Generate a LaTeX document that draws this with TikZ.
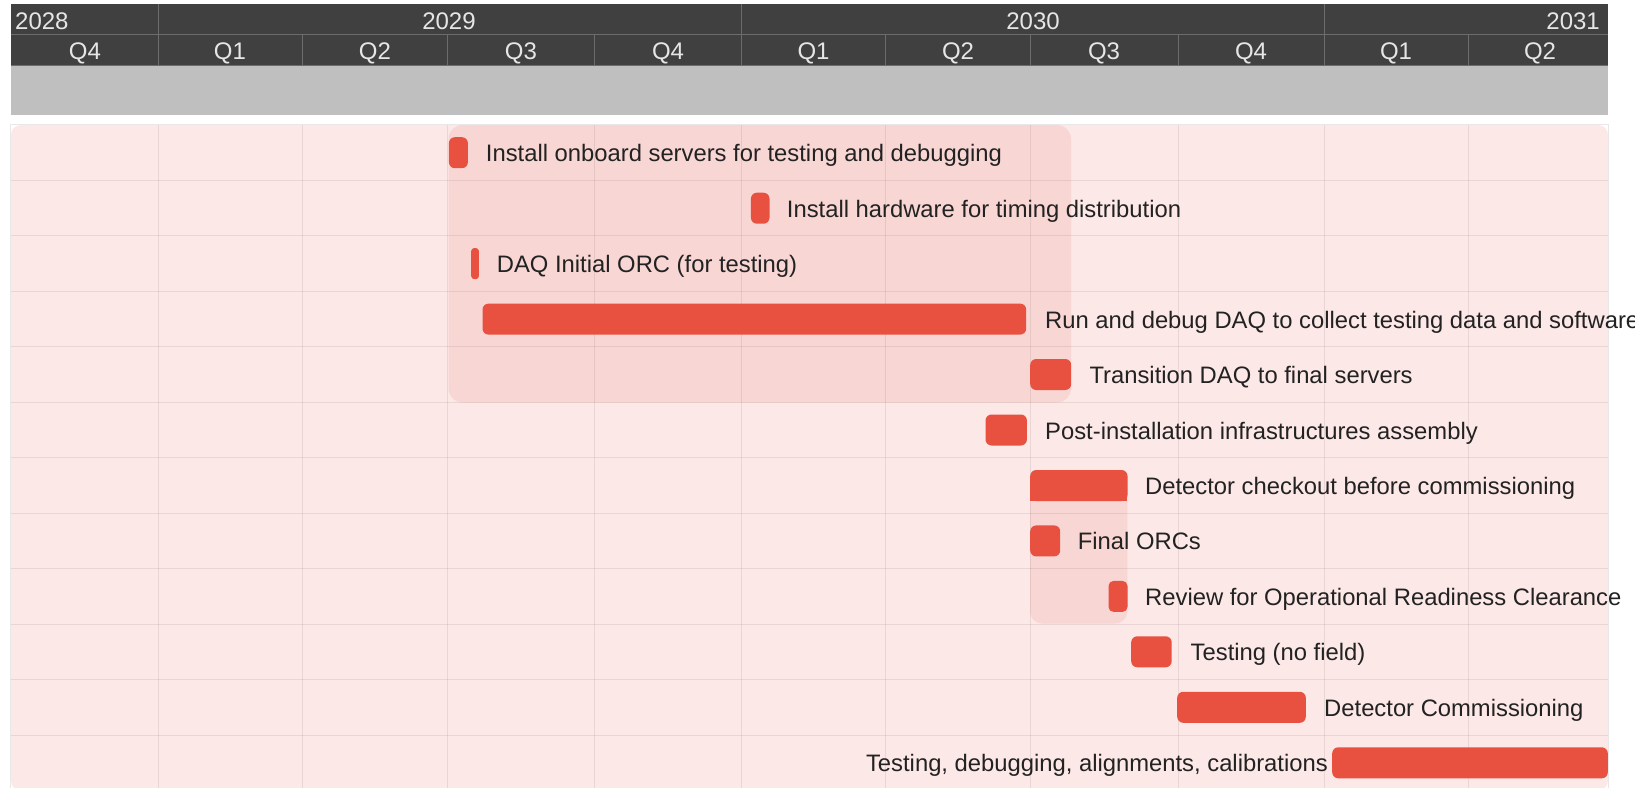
\documentclass[tikz,border=0pt]{standalone}
\usepackage{fontspec}
\setmainfont{Liberation Sans}
\definecolor{hdr}{HTML}{404040}
\definecolor{hdrline}{HTML}{6C6C6C}
\definecolor{hdrtext}{HTML}{E6E6E6}
\definecolor{band}{HTML}{BFBFBF}
\definecolor{bodybg}{HTML}{FCE8E6}
\definecolor{grp}{HTML}{F8D6D4}
\definecolor{barred}{HTML}{E8503F}
\definecolor{txt}{HTML}{222222}
\definecolor{framec}{HTML}{E8E8E8}
\begin{document}
\begin{tikzpicture}[x=1pt,y=-1pt,
  hdrtxt/.style={inner sep=0pt,text=hdrtext,font=\fontsize{24}{28}\selectfont},
  lbl/.style={anchor=base west,inner sep=0pt,text=txt,font=\fontsize{23.8}{28}\selectfont},
  lble/.style={lbl,anchor=base east},
  barbox/.style={fill=barred,rounded corners=6pt,inner sep=0pt,minimum height=31pt,anchor=west},
  gridl/.style={draw=black,draw opacity=0.075,line width=1pt},
  hline/.style={draw=hdrline,line width=1pt}]
\useasboundingbox (0,0) rectangle (1635,787);
\clip (0,0) rectangle (1635,787);
\fill[white] (0,0) rectangle (1635,787);
% header
\fill[hdr] (11,4) rectangle (1608,65.7);
\fill[band] (11,65.7) rectangle (1608,115);
\draw[hline] (11,34.5) -- (1608,34.5);
\draw[hline,line width=0.8pt] (11,65.5) -- (1608,65.5);
\foreach \x in {158.5,741.7,1324} \draw[hline] (\x,4) -- (\x,34.5);
\foreach \x in {158.5,302,447.7,594.5,741.7,885.5,1030.5,1178,1324,1468} \draw[hline] (\x,34.5) -- (\x,65.5);
\node[hdrtxt,anchor=base west] (y28) at (15,29) {2028};
\node[hdrtxt,anchor=base] (y29) at (449,29) {2029};
\node[hdrtxt,anchor=base] (y30) at (1033,29) {2030};
\node[hdrtxt,anchor=base east] (y31) at (1600,29) {2031};
\node[hdrtxt,anchor=base] (q1) at (85,59) {Q4};
\node[hdrtxt,anchor=base] (q2) at (230,59) {Q1};
\node[hdrtxt,anchor=base] (q3) at (375,59) {Q2};
\node[hdrtxt,anchor=base] (q4) at (521,59) {Q3};
\node[hdrtxt,anchor=base] (q5) at (668,59) {Q4};
\node[hdrtxt,anchor=base] (q6) at (813.5,59) {Q1};
\node[hdrtxt,anchor=base] (q7) at (958,59) {Q2};
\node[hdrtxt,anchor=base] (q8) at (1104,59) {Q3};
\node[hdrtxt,anchor=base] (q9) at (1251,59) {Q4};
\node[hdrtxt,anchor=base] (q10) at (1396,59) {Q1};
\node[hdrtxt,anchor=base] (q11) at (1540,59) {Q2};
% body
\draw[framec,line width=1pt] (10.5,124.5) rectangle (1608.5,795);
\fill[bodybg,rounded corners=10pt] (11,125) rectangle (1608,790.5);
\fill[grp,rounded corners=14pt] (448.5,125) rectangle (1071,402.5);
\begin{scope}
\clip (1029,486) rectangle (1129,625);
\fill[grp,rounded corners=12pt] (1030,440) rectangle (1127.3,623.5);
\end{scope}
\foreach \x in {158.5,302,447.7,594.5,741.7,885.5,1030.5,1178,1324,1468} \draw[gridl] (\x,125) -- (\x,790);
\foreach \y in {180.5,235.9,291.4,346.8,402.3,457.8,513.2,568.7,624.1,679.6,735.1} \draw[gridl] (11,\y) -- (1608,\y);
% bars and labels
\node[barbox,minimum width=19pt] (b0) at (448.7,152.7) {};
\node[lbl] (l0) at (485.7,161.7) {Install onboard servers for testing and debugging};
\node[barbox,minimum width=18.6pt] (b1) at (750.7,208.2) {};
\node[lbl] (l1) at (786.7,217.2) {Install hardware for timing distribution};
\node[barbox,rounded corners=3pt,minimum width=7.7pt] (b2) at (471,263.6) {};
\node[lbl] (l2) at (496.7,272.6) {DAQ Initial ORC (for testing)};
\node[barbox,minimum width=543.7pt] (b3) at (482.3,319.1) {};
\node[lbl] (l3) at (1045,328.1) {Run and debug DAQ to collect testing data and software};
\node[barbox,minimum width=41pt] (b4) at (1030,374.5) {};
\node[lbl] (l4) at (1089.3,383.5) {Transition DAQ to final servers};
\node[barbox,minimum width=41.4pt] (b5) at (985.3,430) {};
\node[lbl] (l5) at (1045,439) {Post-installation infrastructures assembly};
\node[barbox,minimum width=97.3pt] (b6) at (1030,485.5) {};
\fill[barred] (1030,486) rectangle (1127.3,501);
\node[lbl] (l6) at (1145,494.5) {Detector checkout before commissioning};
\node[barbox,minimum width=30pt] (b7) at (1030,540.9) {};
\node[lbl] (l7) at (1077.7,549.9) {Final ORCs};
\node[barbox,rounded corners=5pt,minimum width=19pt] (b8) at (1108.3,596.4) {};
\node[lbl] (l8) at (1145,605.4) {Review for Operational Readiness Clearance};
\node[barbox,minimum width=40.5pt] (b9) at (1131,651.8) {};
\node[lbl] (l9) at (1190.5,660.8) {Testing (no field)};
\node[barbox,minimum width=128.6pt] (b10) at (1177,707.3) {};
\node[lbl] (l10) at (1324,716.3) {Detector Commissioning};
\node[barbox,minimum width=275.6pt] (b11) at (1332,762.8) {};
\node[lble] (l11) at (1328,771.8) {Testing, debugging, alignments, calibrations};
\end{tikzpicture}
\end{document}
